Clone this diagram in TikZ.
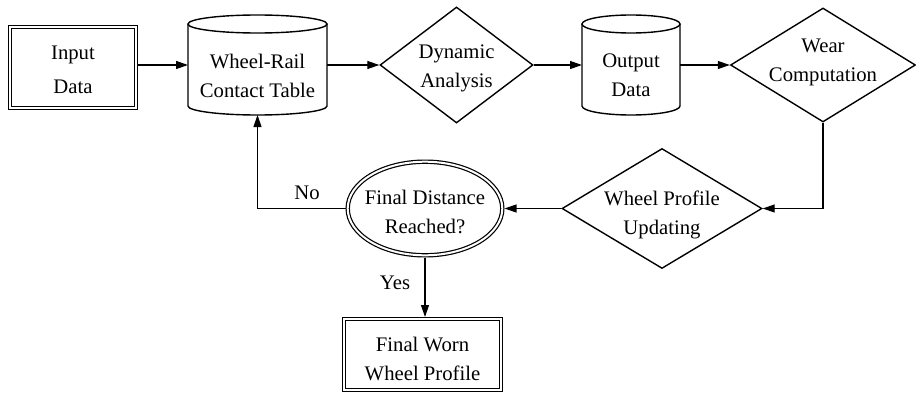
\documentclass[tikz,border=0pt]{standalone}
\usepackage{fontspec}
\setmainfont{Liberation Serif}
\usetikzlibrary{shapes.geometric,arrows.meta,calc}
\begin{document}
\begin{tikzpicture}[x=1pt,y=-1pt,
  txt/.style={font=\fontsize{20.7}{29}\selectfont, align=center, inner sep=0pt},
  lbl/.style={font=\fontsize{20.7}{24}\selectfont, inner sep=0pt},
  shp/.style={draw, line width=1.4pt},
  dbl/.style={draw, line width=1.2pt, double, double distance=2pt, outer sep=2.2pt, inner sep=0pt},
  dia/.style={shp, diamond, inner sep=0pt},
  cylbox/.style={rectangle, inner sep=0pt, outer sep=0pt},
  conn/.style={line width=1.2pt, -{Triangle[length=12pt,width=8pt]}}]
\useasboundingbox (0,0) rectangle (916,396);

% shapes
\node[dbl, rectangle, minimum width=125.6pt, minimum height=80.6pt] (input) at (73,67.5) {};
\node[cylbox, minimum width=139pt, minimum height=100pt] (wr) at (257.5,65) {};
\draw[shp] (188,24) -- (188,106) arc[start angle=180,end angle=360,x radius=69.5pt,y radius=9pt] -- (327,24);
\draw[shp] (257.5,24) ellipse[x radius=69.5pt, y radius=9pt];
\node[dia, minimum width=153pt, minimum height=116pt] (dyn) at (456.5,65) {};
\node[cylbox, minimum width=98pt, minimum height=100pt] (out) at (631,65) {};
\draw[shp] (582,24) -- (582,106) arc[start angle=180,end angle=360,x radius=49pt,y radius=9pt] -- (680,24);
\draw[shp] (631,24) ellipse[x radius=49pt, y radius=9pt];
\node[dia, minimum width=185pt, minimum height=114pt] (wear) at (823,65) {};
\node[dia, minimum width=200pt, minimum height=120pt] (wpu) at (662,208.5) {};
\node[dbl, ellipse, minimum width=154.6pt, minimum height=93.6pt] (fdr) at (425,208.5) {};
\node[dbl, rectangle, minimum width=156.6pt, minimum height=70.6pt] (fwp) at (422.5,354.5) {};

% texts
\node[txt] (inputt) at (73,70) {Input\\[5pt]Data};
\node[txt] (wrt) at (257.5,76) {Wheel-Rail\\Contact Table};
\node[txt] (dynt) at (456.5,68) {Dynamic\\Analysis};
\node[txt] (outt) at (631,75.5) {Output\\Data};
\node[txt] (weart) at (823,62.5) {Wear\\Computation};
\node[txt] (wput) at (662,214.5) {Wheel Profile\\Updating};
\node[txt] (fdrt) at (425,212) {Final Distance\\Reached?};
\node[txt] (fwpt) at (422.5,359) {Final Worn\\Wheel Profile};

% connectors
\draw[conn] (input.east |- wr.west) -- (wr.west);
\draw[conn] (wr.east) -- (dyn.west);
\draw[conn] (dyn.east) -- (out.west);
\draw[conn] (out.east) -- (wear.west);
\draw[conn] (wear.south) |- (wpu.east);
\draw[conn] (wpu.west) -- (fdr.east);
\draw[conn] (fdr.west) -| (wr.south);
\draw[conn] (fdr.south) -- (fdr.south |- fwp.north);

% labels
\node[lbl] (no) at (307,193) {No};
\node[lbl] (yes) at (395,283) {Yes};
\end{tikzpicture}
\end{document}
